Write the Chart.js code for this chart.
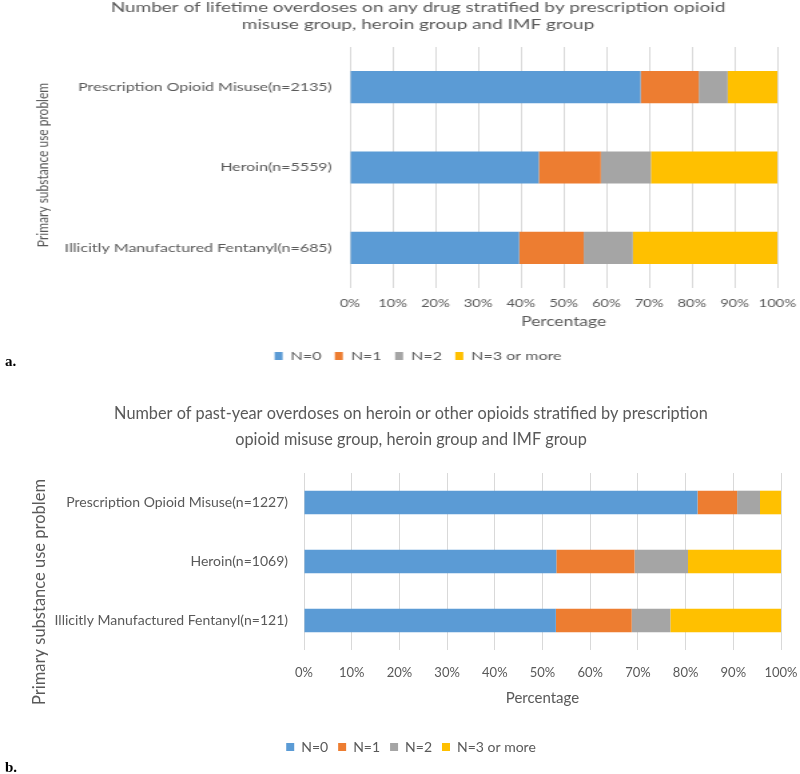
<!DOCTYPE html>
<html>
<head>
<meta charset="utf-8">
<script src="https://cdn.jsdelivr.net/npm/chart.js@4.4.1/dist/chart.umd.min.js"></script>
<style>
  html, body { margin: 0; padding: 0; background: #fff; }
  body { width: 800px; height: 774px; position: relative; overflow: hidden; }
  /* panel a is a horizontally stretched picture in the source, so stretch it the same way */
  #wrapA { position: absolute; left: 0; top: -1px; width: 599px; height: 374px; transform: scaleX(1.3356); transform-origin: 0 0; }
  #wrapB { position: absolute; left: 0; top: 380px; width: 800px; height: 394px; }
  .tag { position: absolute; left: 5px; font: bold 15px "Liberation Serif", serif; line-height: 15px; color: #000; }
</style>
</head>
<body>
<div id="wrapA"><canvas id="chartA" width="599" height="374"></canvas></div>
<div class="tag" style="top:354px">a.</div>
<div id="wrapB"><canvas id="chartB" width="800" height="394"></canvas></div>
<div class="tag" style="top:760px">b.</div>

<script>
// series names + colours
const seriesNames = ['N=0', 'N=1', 'N=2', 'N=3 or more'];
const seriesColors = ['#5B9BD5', '#ED7D31', '#A5A5A5', '#FFC000'];

// panel a: lifetime overdoses (percent of group)
const groupsA = ['Prescription Opioid Misuse(n=2135)', 'Heroin(n=5559)', 'Illicitly Manufactured Fentanyl(n=685)'];
const a_n0 = [68.0, 44.2, 39.6];
const a_n1 = [13.6, 14.5, 15.1];
const a_n2 = [6.8, 11.7, 11.5];
const a_n3 = [11.6, 29.6, 33.8];

// panel b: past-year overdoses on heroin or other opioids
const groupsB = ['Prescription Opioid Misuse(n=1227)', 'Heroin(n=1069)', 'Illicitly Manufactured Fentanyl(n=121)'];
const b_n0 = [82.5, 52.9, 52.8];
const b_n1 = [8.3, 16.4, 15.9];
const b_n2 = [4.8, 11.2, 8.1];
const b_n3 = [4.4, 19.5, 23.2];

const TEXT = '#595959';
const GRID = '#D9D9D9';
Chart.defaults.font.family = 'Lato, "Liberation Sans", sans-serif';

// rotated y axis title, drawn where the source puts it
const sideTitle = {
  id: 'sideTitle',
  afterDraw(chart, args, opts) {
    const ctx = chart.ctx;
    ctx.save();
    ctx.translate(opts.x, opts.y);
    ctx.rotate(-Math.PI / 2);
    ctx.font = opts.font;
    ctx.fillStyle = opts.color;
    ctx.textAlign = 'center';
    ctx.textBaseline = 'middle';
    ctx.fillText(opts.text, 0, 0);
    ctx.restore();
  }
};

function makeSets(cols) {
  return cols.map((vals, i) => ({
    label: seriesNames[i],
    data: vals,
    backgroundColor: seriesColors[i],
    borderWidth: 0,
    barPercentage: 0.4,
    categoryPercentage: 1
  }));
}

function drawPanel(id, p) {
  const ctx = document.getElementById(id).getContext('2d');
  return new Chart(ctx, {
    type: 'bar',
    data: { labels: p.labels, datasets: makeSets(p.cols) },
    options: {
      indexAxis: 'y',
      responsive: false,
      animation: false,
      layout: { padding: p.pad },
      scales: {
        x: {
          stacked: true, min: 0, max: 100,
          ticks: {
            stepSize: 10, padding: p.tickPad, color: TEXT, font: { size: p.tickSize },
            maxRotation: 0, minRotation: 0, autoSkip: false,
            callback: v => v + '%'
          },
          grid: { color: GRID, drawTicks: false },
          border: { display: false },
          title: { display: true, text: 'Percentage', color: TEXT, font: { size: p.axisSize }, padding: { top: 0, bottom: p.axisPadBottom } },
          // fixed height, and let the end labels hang over the padding
          afterFit: s => { s.height = p.xHeight; s.paddingLeft = 0; s.paddingRight = 0; }
        },
        y: {
          stacked: true,
          ticks: { padding: p.labelPad, color: TEXT, font: { size: p.labelSize } },
          grid: { display: false, drawTicks: false },
          border: { display: false },
          afterFit: s => { s.width = p.yWidth; }
        }
      },
      plugins: {
        title: {
          display: true, text: p.title, color: TEXT,
          font: { size: p.titleSize, weight: 'normal', lineHeight: p.titleLH },
          padding: p.titlePad
        },
        legend: {
          position: 'bottom',
          labels: { boxWidth: p.box[0], boxHeight: p.box[1], color: TEXT, font: { size: p.legendSize } }
        },
        tooltip: { enabled: false },
        sideTitle: { text: 'Primary substance use problem', x: p.side[0], y: p.side[1], font: p.sideFont, color: TEXT }
      }
    },
    plugins: [sideTitle]
  });
}

drawPanel('chartA', {
  labels: groupsA,
  cols: [a_n0, a_n1, a_n2, a_n3],
  title: ['Number of lifetime overdoses on any drug stratified by prescription opioid',
          'misuse group, heroin group and IMF group'],
  titleSize: 14.2, titleLH: 17 / 14.2, titlePad: { top: 0, bottom: 14 },
  pad: { left: 44, right: 17, top: 0, bottom: 1 },
  yWidth: 218, labelPad: 13.5, labelSize: 12,
  xHeight: 52, tickPad: 8.4, tickSize: 11, axisSize: 13, axisPadBottom: 10,
  box: [6, 8], legendSize: 12,
  side: [32, 166], sideFont: '12px Lato'
});

drawPanel('chartB', {
  labels: groupsB,
  cols: [b_n0, b_n1, b_n2, b_n3],
  title: ['Number of past-year overdoses on heroin or other opioids stratified by prescription',
          'opioid misuse group, heroin group and IMF group'],
  titleSize: 16.3, titleLH: 26 / 16.3, titlePad: { top: 21, bottom: 20 },
  pad: { left: 41, right: 19, top: 0, bottom: 10 },
  yWidth: 263, labelPad: 16, labelSize: 14,
  xHeight: 80, tickPad: 15, tickSize: 13, axisSize: 15, axisPadBottom: 23,
  box: [8, 8], legendSize: 14,
  side: [40, 212], sideFont: '16.5px Lato'
});
</script>
</body>
</html>
